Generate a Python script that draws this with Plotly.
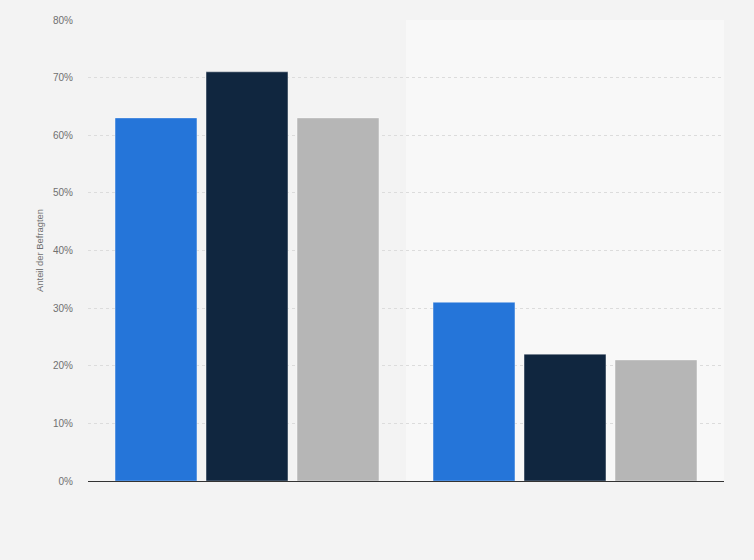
import plotly.graph_objects as go

# Daten (in Prozent)
kategorien = ["Gruppe A", "Gruppe B"]
serie_1 = [63, 31]
serie_2 = [71, 22]
serie_3 = [63, 21]
y_ticks = [0, 10, 20, 30, 40, 50, 60, 70, 80]
y_tick_labels = ["0%", "10%", "20%", "30%", "40%", "50%", "60%", "70%", "80%"]

farben = ["#2575d9", "#10263f", "#b6b6b6"]

fig = go.Figure()
for name, werte, farbe in zip(["Serie 1", "Serie 2", "Serie 3"],
                              [serie_1, serie_2, serie_3], farben):
    fig.add_trace(go.Bar(
        x=kategorien,
        y=werte,
        name=name,
        marker=dict(color=farbe, line=dict(color="rgba(255,255,255,0.35)", width=1)),
        hoverinfo="y",
    ))

# hellerer Hintergrund hinter der zweiten Gruppe
fig.add_shape(type="rect", xref="x", yref="paper",
              x0=0.5, x1=1.5, y0=0, y1=1,
              fillcolor="#f8f8f8", line_width=0, layer="below")

fig.update_layout(
    width=754, height=560,
    margin=dict(l=88, r=30, t=20, b=79),
    paper_bgcolor="#f3f3f3",
    plot_bgcolor="#f3f3f3",
    font=dict(family="Liberation Sans, Arial, sans-serif", color="#666666", size=10),
    showlegend=False,
    barmode="group",
    bargap=0.1415,
    bargroupgap=0.1,
)

fig.update_xaxes(
    showticklabels=False,
    showgrid=False,
    showline=True, linecolor="#333333", linewidth=1,
    ticks="",
    range=[-0.5, 1.5],
)

fig.update_yaxes(
    range=[0, 80],
    tickvals=y_ticks,
    ticktext=y_tick_labels,
    showgrid=True, gridcolor="#dcdcdc", griddash="dot", gridwidth=1,
    zeroline=False,
    ticks="", ticklabelstandoff=14,
    tickfont=dict(size=10, color="#707070"),
    title=dict(text="Anteil der Befragten", font=dict(size=9.4, color="#707070"), standoff=7),
)

# Seitenrand des Browsers entfernen
fig.write_html("out.html", config={"displayModeBar": False},
               post_script="document.body.style.margin='0';")
